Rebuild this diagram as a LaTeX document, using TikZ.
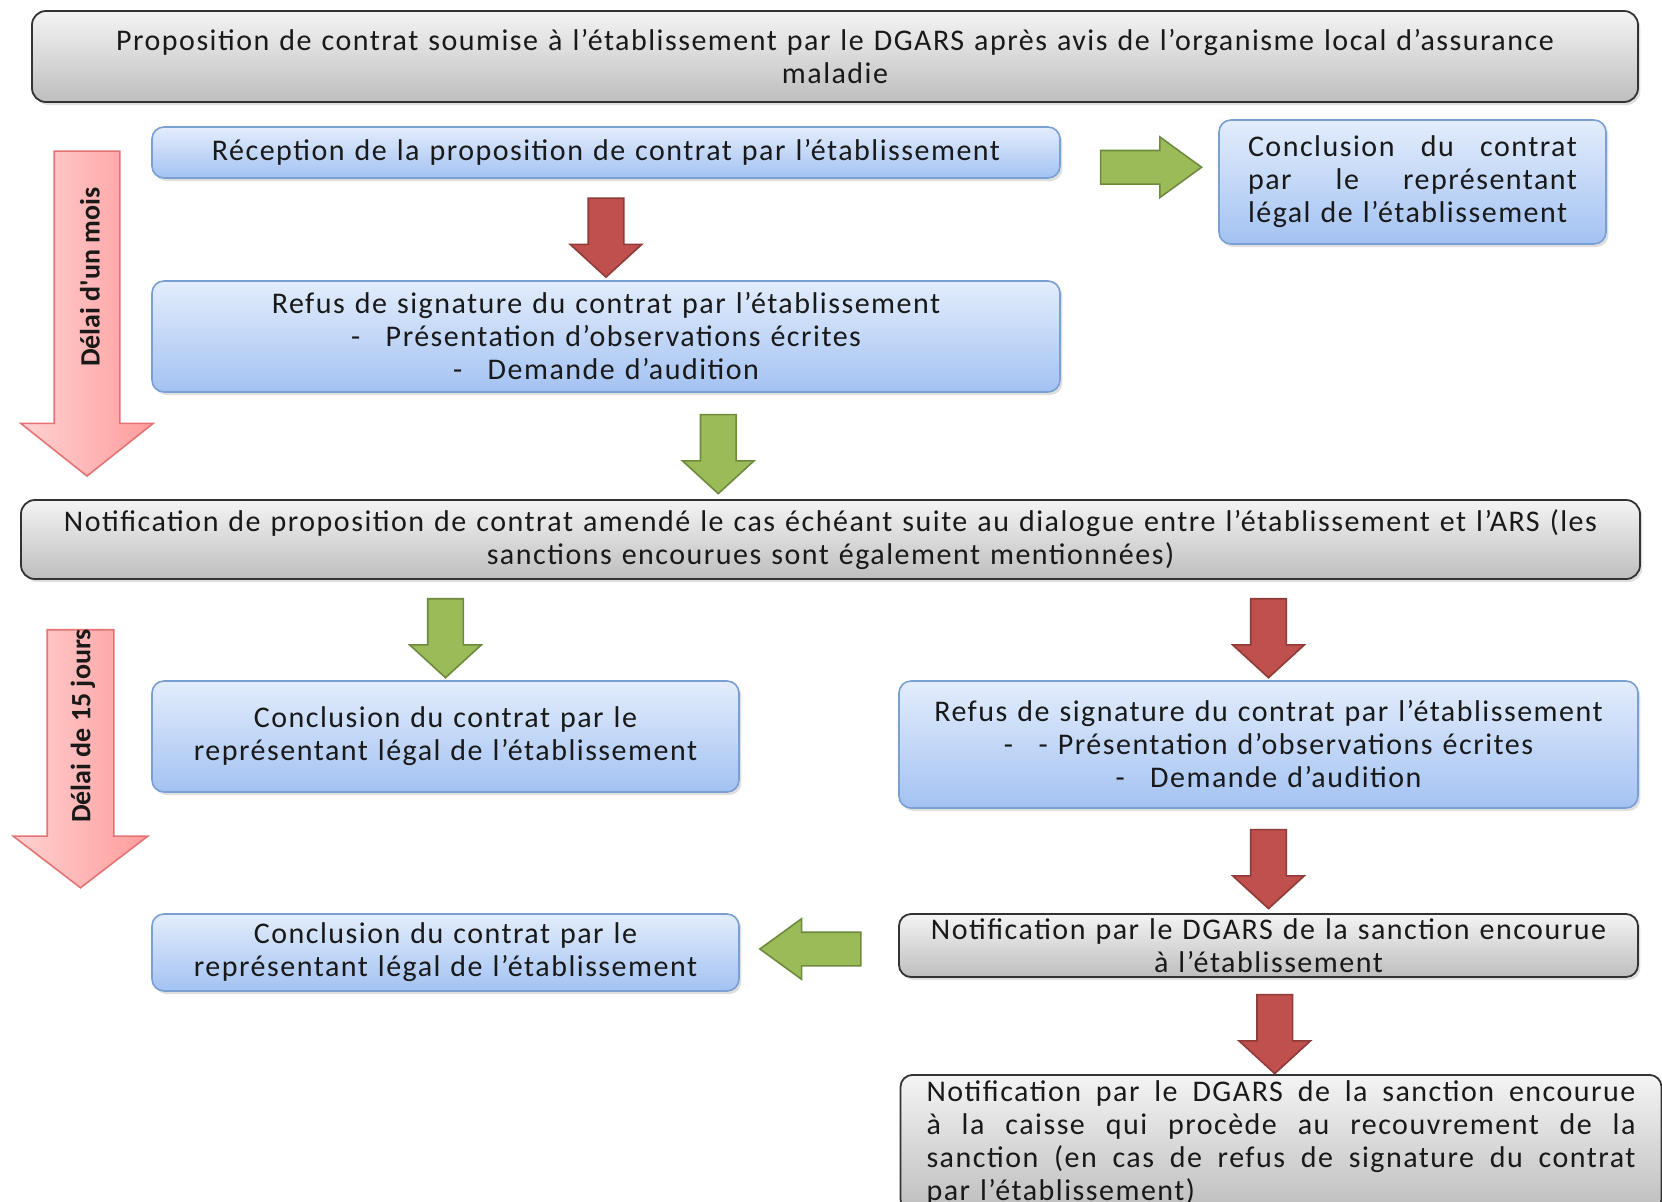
\documentclass[tikz,border=0pt]{standalone}
\usepackage{fontspec}
\setmainfont{Carlito}
\newfontfamily\boxfont{Carlito}[LetterSpace=5, WordSpace=2.8]
\usetikzlibrary{shapes.arrows,shadows,calc}

\definecolor{bluetop}{HTML}{E3EDFC}
\definecolor{bluebot}{HTML}{A3C2F2}
\definecolor{blueline}{HTML}{7A9FD2}
\definecolor{graytop}{HTML}{F4F4F4}
\definecolor{graybot}{HTML}{BEBEBE}
\definecolor{redfill}{HTML}{C0504D}
\definecolor{redline}{HTML}{8E3B39}
\definecolor{greenfill}{HTML}{9BBB59}
\definecolor{greenline}{HTML}{6E8B3D}
\definecolor{pinkfill}{HTML}{FF9C9C}
\definecolor{pinklight}{HTML}{FFD2D2}
\definecolor{pinkline}{HTML}{E57373}

\pgfmathsetlengthmacro\unitpx{0.5pt}
\newcommand\jline[1]{\leavevmode\hbox to \linewidth{#1}}

\tikzset{
  box/.style={rounded corners=6pt, inner xsep=0pt, inner ysep=0pt, align=center,
    font=\boxfont\fontsize{15}{16.5}\selectfont, text=black!90},
  bluebox/.style={box, draw=blueline, line width=0.8pt, top color=bluetop, bottom color=bluebot,
    drop shadow={shadow xshift=1.2pt, shadow yshift=-1.5pt, opacity=0.25}},
  graybox/.style={box, draw=black!80, line width=0.9pt, top color=graytop, bottom color=graybot,
    drop shadow={shadow xshift=1.2pt, shadow yshift=-1.5pt, opacity=0.25}},
  blockarrow/.style={single arrow, inner sep=17*\unitpx, line width=0.8pt, minimum height=79*\unitpx,
    minimum width=70*\unitpx, single arrow head extend=18*\unitpx, single arrow tip angle=95},
  redarrow/.style={blockarrow, draw=redline, fill=redfill},
  greenarrow/.style={blockarrow, draw=greenline, fill=greenfill},
  sidearrow/.style={inner sep=16*\unitpx, minimum height=101*\unitpx, minimum width=59*\unitpx,
    single arrow head extend=13.5*\unitpx, single arrow tip angle=72},
  delai/.style={single arrow, inner sep=32*\unitpx, line width=0.8pt, draw=pinkline,
    left color=pinklight, right color=pinkfill, shape border rotate=270},
  delaitext/.style={rotate=90, font=\fontsize{14}{16.5}\selectfont\bfseries, text=black!90},
}

\begin{document}
\begin{tikzpicture}[x=0.5pt, y=-0.5pt]
\useasboundingbox (0,0) rectangle (1662,1201);

% boxes
\node[graybox, rounded corners=7pt, minimum width=1606*\unitpx, minimum height=91*\unitpx, text width=1606*\unitpx] (propos) at (835,56.5)
  {Proposition de contrat soumise à l’établissement par le DGARS après avis de l’organisme local d’assurance\\maladie};
\node[bluebox, minimum width=908*\unitpx, minimum height=51*\unitpx, text width=908*\unitpx] (rec) at (606,152.5)
  {Réception de la proposition de contrat par l’établissement};
\node[bluebox, minimum width=387*\unitpx, minimum height=124*\unitpx, text width=329*\unitpx, inner xsep=29*\unitpx, align=left] (concA) at (1412.5,182)
  {\jline{Conclusion\hfill du\hfill contrat}\\\jline{par\hfill le\hfill représentant}\\légal de l’établissement};
\node[bluebox, minimum width=908*\unitpx, minimum height=111*\unitpx, text width=908*\unitpx] (refA) at (606,336.5)
  {Refus de signature du contrat par l’établissement\\-\hspace{0.85em}Présentation d’observations écrites\\-\hspace{0.85em}Demande d’audition};
\node[graybox, rounded corners=7pt, minimum width=1619*\unitpx, minimum height=79*\unitpx, text width=1619*\unitpx] (notif) at (830.5,539.5)
  {Notification de proposition de contrat amendé le cas échéant suite au dialogue entre l’établissement et l’ARS (les\\sanctions encourues sont également mentionnées)};
\node[bluebox, minimum width=587*\unitpx, minimum height=111*\unitpx, text width=587*\unitpx] (concB) at (445.5,736.5)
  {Conclusion du contrat par le\\représentant légal de l’établissement};
\node[bluebox, minimum width=739*\unitpx, minimum height=127*\unitpx, text width=739*\unitpx] (refB) at (1268.5,744.5)
  {Refus de signature du contrat par l’établissement\\-\hspace{0.85em}- Présentation d’observations écrites\\-\hspace{0.85em}Demande d’audition};
\node[bluebox, minimum width=587*\unitpx, minimum height=77*\unitpx, text width=587*\unitpx] (concC) at (445.5,952.5)
  {Conclusion du contrat par le\\représentant légal de l’établissement};
\node[graybox, minimum width=739*\unitpx, minimum height=63*\unitpx, text width=739*\unitpx] (sancA) at (1268.5,945.5)
  {Notification par le DGARS de la sanction encourue\\à l’établissement};
\node[graybox, anchor=north, text width=709*\unitpx, inner xsep=26*\unitpx, inner ysep=6*\unitpx, align=left] (sancB) at (1281,1074)
  {\jline{Notification\hfill par\hfill le\hfill DGARS\hfill de\hfill la\hfill sanction\hfill encourue}\\
   \jline{à\hfill la\hfill caisse\hfill qui\hfill procède\hfill au\hfill recouvrement\hfill de\hfill la}\\
   \jline{sanction\hfill (en\hfill cas\hfill de\hfill refus\hfill de\hfill signature\hfill du\hfill contrat}\\
   par l’établissement)};

% block arrows between boxes
\node[redarrow, shape border rotate=270] (arrA) at ($(rec.south)!0.5!(refA.north)$) {};
\node[greenarrow, shape border rotate=270] (arrB) at ($(refA.south)!0.5!(notif.north)$) {};
\node[greenarrow, sidearrow] (arrC) at ($(rec.east)!0.5!(concA.west)$) {};
\node[greenarrow, shape border rotate=270] (arrD) at ($(notif.south -| concB.north)!0.5!(concB.north)$) {};
\node[redarrow, shape border rotate=270] (arrE) at ($(notif.south -| refB.north)!0.5!(refB.north)$) {};
\node[redarrow, shape border rotate=270] (arrF) at ($(refB.south)!0.5!(sancA.north)$) {};
\node[greenarrow, sidearrow, shape border rotate=180] (arrG) at ($(concC.east)!0.5!(sancA.west)+(3,0)$) {};
\node[redarrow, shape border rotate=270] (arrH) at ($(sancA.south)!0.5!(sancB.north)$) {};

% time limits
\node[delai, minimum height=325*\unitpx, minimum width=131*\unitpx, single arrow head extend=33.5*\unitpx, single arrow tip angle=103] (delaiA) at (87,300.5) {};
\node[delaitext] (delaiAtext) at (90,277) {Délai d\textquotesingle un mois};
\node[delai, inner sep=32.5*\unitpx, minimum height=258*\unitpx, minimum width=133*\unitpx, single arrow head extend=34*\unitpx, single arrow tip angle=105] (delaiB) at (80.5,746) {};
\node[delaitext] (delaiBtext) at (83,726) {Délai de 15 jours};
\end{tikzpicture}
\end{document}
